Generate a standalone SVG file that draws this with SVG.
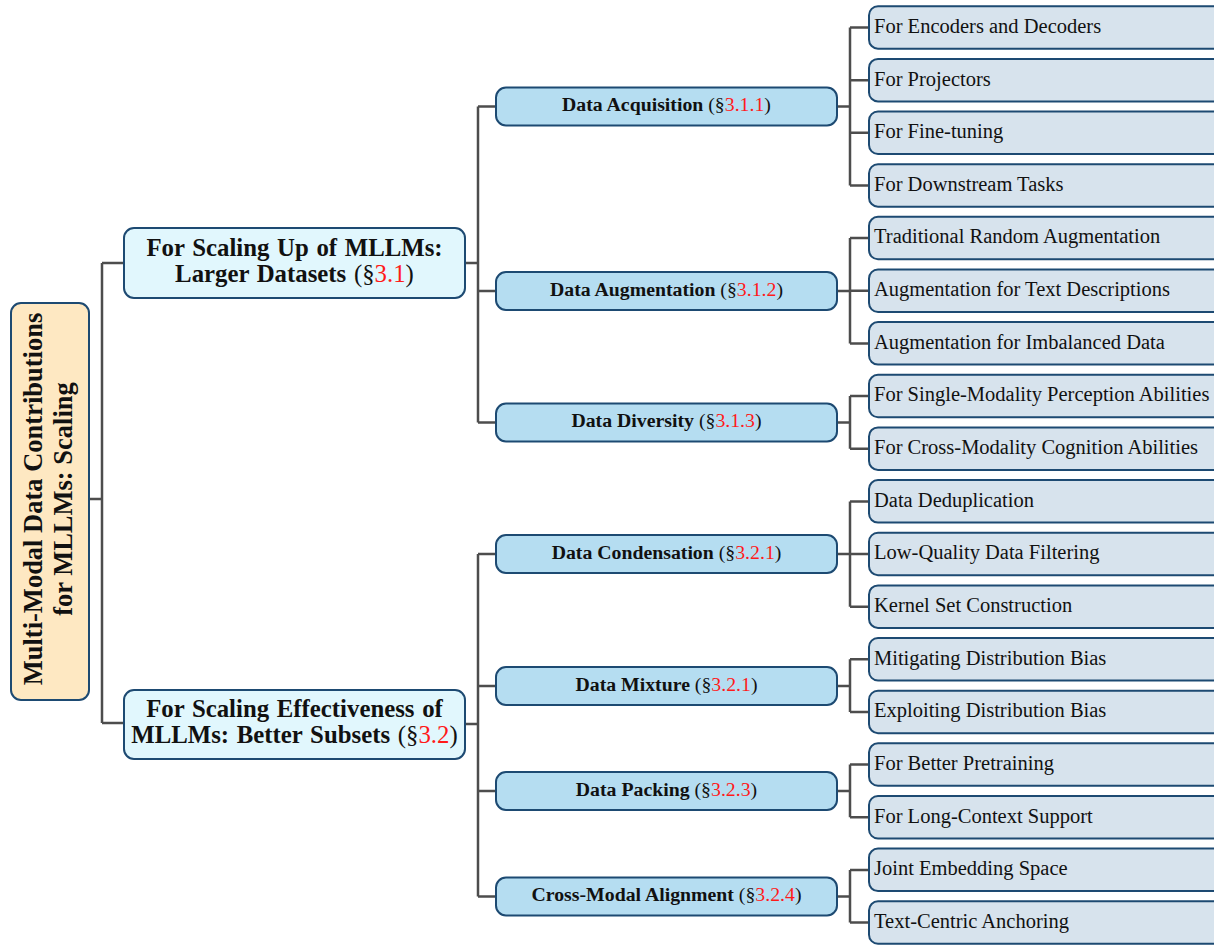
<svg xmlns="http://www.w3.org/2000/svg" width="1214" height="945" viewBox="0 0 1214 945">
<style>
.box{stroke:#1d4a72;stroke-width:2}
.root{fill:#fee8c2}
.l1{fill:#e1f7fd}
.l2{fill:#b5ddf1}
.leaf{fill:#d7e3ed}
.conn{fill:none;stroke:#4d4d4d;stroke-width:2.5}
text{font-family:"Liberation Serif","Times New Roman",serif;fill:#111}
.t0{font-size:26.5px;font-weight:bold;text-anchor:middle}
.t1{font-size:24.8px;text-anchor:middle;word-spacing:1.5px}
.t2{font-size:19.8px;text-anchor:middle}
.t3{font-size:20.5px}
.b{font-weight:bold}
.r{fill:#ff1a1a}
</style>
<rect width="1214" height="945" fill="#ffffff"/>
<g id="connectors" class="conn">
<path d="M89 499H102M102 263V723M102 263H124M102 723H124"/>
<path d="M465 263H478M478 106.5V422.5M478 106.5H496M478 291H496M478 422.5H496"/>
<path d="M465 724H478M478 554V896.5M478 554H496M478 686H496M478 791H496M478 896.5H496"/>
<path d="M837 106.5H850M850 27.5V185.5M850 27.5H869M850 80.2H869M850 132.8H869M850 185.5H869"/>
<path d="M837 291H850M850 238.1V343.4M850 238.1H869M850 290.8H869M850 343.4H869"/>
<path d="M837 422.5H850M850 396V448.7M850 396H869M850 448.7H869"/>
<path d="M837 554H850M850 501.4V606.7M850 501.4H869M850 554H869M850 606.7H869"/>
<path d="M837 686H850M850 659.3V712M850 659.3H869M850 712H869"/>
<path d="M837 791H850M850 764.6V817.3M850 764.6H869M850 817.3H869"/>
<path d="M837 896.5H850M850 869.9V922.6M850 869.9H869M850 922.6H869"/>
</g>
<g id="root">
<rect class="box root" x="11" y="303" width="78" height="397" rx="10"/>
<text class="t0" transform="translate(42,499) rotate(-90)">Multi-Modal Data Contributions</text>
<text class="t0" transform="translate(72,499) rotate(-90)">for MLLMs: Scaling</text>
</g>
<g id="n31">
<rect class="box l1" x="124" y="228" width="341" height="70" rx="10"/>
<text class="t1" x="294.5" y="256"><tspan class="b">For Scaling Up of MLLMs:</tspan></text>
<text class="t1" x="294.5" y="282"><tspan class="b">Larger Datasets</tspan> (§<tspan class="r">3.1</tspan>)</text>
</g>
<g id="n32">
<rect class="box l1" x="124" y="690" width="341" height="69" rx="10"/>
<text class="t1" x="294.5" y="717"><tspan class="b">For Scaling Effectiveness of</tspan></text>
<text class="t1" x="294.5" y="743"><tspan class="b">MLLMs: Better Subsets</tspan> (§<tspan class="r">3.2</tspan>)</text>
</g>
<g id="n311">
<rect class="box l2" x="496" y="87.5" width="341" height="38" rx="10"/>
<text class="t2" x="666.5" y="111"><tspan class="b">Data Acquisition</tspan> (§<tspan class="r">3.1.1</tspan>)</text>
</g>
<g id="n312">
<rect class="box l2" x="496" y="272" width="341" height="38" rx="10"/>
<text class="t2" x="666.5" y="295.5"><tspan class="b">Data Augmentation</tspan> (§<tspan class="r">3.1.2</tspan>)</text>
</g>
<g id="n313">
<rect class="box l2" x="496" y="403.5" width="341" height="38" rx="10"/>
<text class="t2" x="666.5" y="427"><tspan class="b">Data Diversity</tspan> (§<tspan class="r">3.1.3</tspan>)</text>
</g>
<g id="n321">
<rect class="box l2" x="496" y="535" width="341" height="38" rx="10"/>
<text class="t2" x="666.5" y="558.5"><tspan class="b">Data Condensation</tspan> (§<tspan class="r">3.2.1</tspan>)</text>
</g>
<g id="n322">
<rect class="box l2" x="496" y="667" width="341" height="38" rx="10"/>
<text class="t2" x="666.5" y="690.5"><tspan class="b">Data Mixture</tspan> (§<tspan class="r">3.2.1</tspan>)</text>
</g>
<g id="n323">
<rect class="box l2" x="496" y="772" width="341" height="38" rx="10"/>
<text class="t2" x="666.5" y="795.5"><tspan class="b">Data Packing</tspan> (§<tspan class="r">3.2.3</tspan>)</text>
</g>
<g id="n324">
<rect class="box l2" x="496" y="877.5" width="341" height="38" rx="10"/>
<text class="t2" x="666.5" y="901"><tspan class="b">Cross-Modal Alignment</tspan> (§<tspan class="r">3.2.4</tspan>)</text>
</g>
<g id="leaf01"><rect class="box leaf" x="869" y="6.2" width="355" height="42.5" rx="9"/><text class="t3" x="874" y="32.8">For Encoders and Decoders</text></g>
<g id="leaf02"><rect class="box leaf" x="869" y="58.9" width="355" height="42.5" rx="9"/><text class="t3" x="874" y="85.5">For Projectors</text></g>
<g id="leaf03"><rect class="box leaf" x="869" y="111.5" width="355" height="42.5" rx="9"/><text class="t3" x="874" y="138.1">For Fine-tuning</text></g>
<g id="leaf04"><rect class="box leaf" x="869" y="164.2" width="355" height="42.5" rx="9"/><text class="t3" x="874" y="190.8">For Downstream Tasks</text></g>
<g id="leaf05"><rect class="box leaf" x="869" y="216.8" width="355" height="42.5" rx="9"/><text class="t3" x="874" y="243.4">Traditional Random Augmentation</text></g>
<g id="leaf06"><rect class="box leaf" x="869" y="269.5" width="355" height="42.5" rx="9"/><text class="t3" x="874" y="296.1">Augmentation for Text Descriptions</text></g>
<g id="leaf07"><rect class="box leaf" x="869" y="322.1" width="355" height="42.5" rx="9"/><text class="t3" x="874" y="348.7">Augmentation for Imbalanced Data</text></g>
<g id="leaf08"><rect class="box leaf" x="869" y="374.8" width="355" height="42.5" rx="9"/><text class="t3" x="874" y="401.4">For Single-Modality Perception Abilities</text></g>
<g id="leaf09"><rect class="box leaf" x="869" y="427.4" width="355" height="42.5" rx="9"/><text class="t3" x="874" y="454">For Cross-Modality Cognition Abilities</text></g>
<g id="leaf10"><rect class="box leaf" x="869" y="480.1" width="355" height="42.5" rx="9"/><text class="t3" x="874" y="506.7">Data Deduplication</text></g>
<g id="leaf11"><rect class="box leaf" x="869" y="532.7" width="355" height="42.5" rx="9"/><text class="t3" x="874" y="559.3">Low-Quality Data Filtering</text></g>
<g id="leaf12"><rect class="box leaf" x="869" y="585.4" width="355" height="42.5" rx="9"/><text class="t3" x="874" y="612">Kernel Set Construction</text></g>
<g id="leaf13"><rect class="box leaf" x="869" y="638" width="355" height="42.5" rx="9"/><text class="t3" x="874" y="664.6">Mitigating Distribution Bias</text></g>
<g id="leaf14"><rect class="box leaf" x="869" y="690.7" width="355" height="42.5" rx="9"/><text class="t3" x="874" y="717.3">Exploiting Distribution Bias</text></g>
<g id="leaf15"><rect class="box leaf" x="869" y="743.3" width="355" height="42.5" rx="9"/><text class="t3" x="874" y="769.9">For Better Pretraining</text></g>
<g id="leaf16"><rect class="box leaf" x="869" y="796" width="355" height="42.5" rx="9"/><text class="t3" x="874" y="822.6">For Long-Context Support</text></g>
<g id="leaf17"><rect class="box leaf" x="869" y="848.6" width="355" height="42.5" rx="9"/><text class="t3" x="874" y="875.2">Joint Embedding Space</text></g>
<g id="leaf18"><rect class="box leaf" x="869" y="901.3" width="355" height="42.5" rx="9"/><text class="t3" x="874" y="927.9">Text-Centric Anchoring</text></g>
</svg>
